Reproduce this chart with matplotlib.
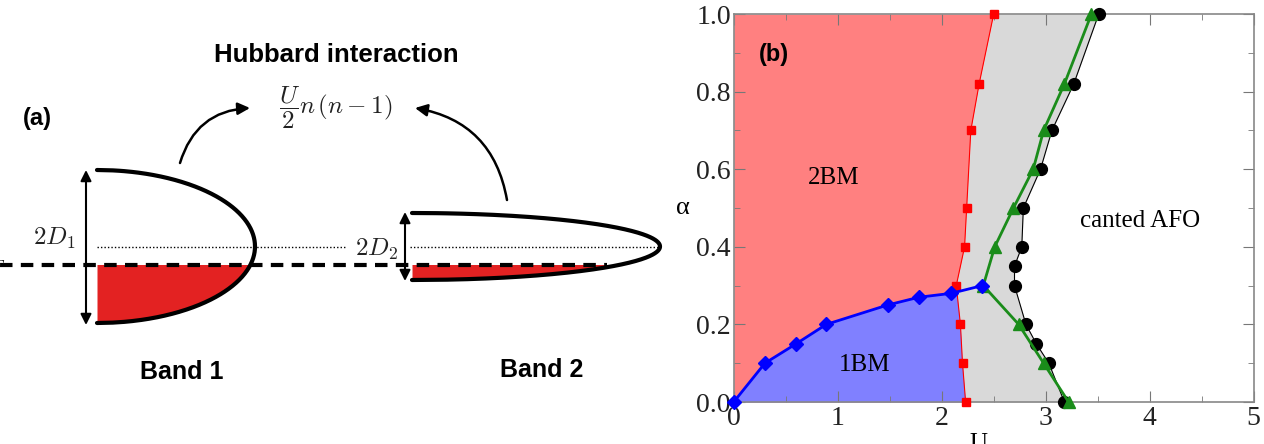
import numpy as np
import matplotlib.pyplot as plt

plt.rcParams.update({"mathtext.fontset": "cm"})

# phase boundaries, panel (b)
red_U = [2.50, 2.36, 2.28, 2.24, 2.22, 2.14, 2.18, 2.20, 2.23]
red_a = [1.00, 0.82, 0.70, 0.50, 0.40, 0.30, 0.20, 0.10, 0.00]

blue_U = [0.0, 0.30, 0.60, 0.89, 1.48, 1.78, 2.09, 2.39]
blue_a = [0.0, 0.10, 0.15, 0.20, 0.25, 0.27, 0.28, 0.30]

green_U = [3.44, 3.18, 2.98, 2.88, 2.69, 2.51, 2.40, 2.74, 2.98, 3.22]
green_a = [1.00, 0.82, 0.70, 0.60, 0.50, 0.40, 0.30, 0.20, 0.10, 0.00]

black_U = [3.51, 3.27, 3.06, 2.95, 2.785, 2.77, 2.70, 2.70, 2.81, 2.91, 3.03, 3.18]
black_a = [1.00, 0.82, 0.70, 0.60, 0.50, 0.40, 0.35, 0.30, 0.20, 0.15, 0.10, 0.00]

phase_labels = ["2BM", "1BM", "canted AFO"]
phase_pos = [(0.965, 0.577), (1.256, 0.096), (3.91, 0.466)]

# schematic, panel (a) (pixel units)
band1 = dict(x0=97, w=158, yc=246.5, h=76.5)
band2 = dict(x0=412, w=248, yc=246.5, h=33.5)
y_fermi = 264.5

fig = plt.figure(figsize=(12.64, 4.44), dpi=100)

# ---------- panel (a)
ax0 = fig.add_axes([0, 0, 1, 1])
ax0.set_xlim(0, 1264)
ax0.set_ylim(444, 0)
ax0.axis("off")

sans = ["Liberation Sans", "DejaVu Sans"]


def draw_band(b):
    e = np.linspace(-1, 1, 400)
    x = b["x0"] + b["w"] * np.sqrt(1 - e**2)
    y = b["yc"] - b["h"] * e
    ef = np.linspace(-1, (b["yc"] - y_fermi) / b["h"], 200)
    ax0.fill_betweenx(b["yc"] - b["h"] * ef, b["x0"],
                      b["x0"] + b["w"] * np.sqrt(1 - ef**2),
                      color="#e32222", lw=0)
    ax0.plot(x, y, color="k", lw=3, solid_capstyle="round")


draw_band(band1)
draw_band(band2)

ax0.plot([0, 607], [y_fermi, y_fermi], color="k", lw=3, dashes=(3, 2))
ax0.plot([97, 345], [247, 247], color="k", lw=1, ls=(0, (1, 1.5)))
ax0.plot([410, 660], [247, 247], color="k", lw=1, ls=(0, (1, 1.5)))

for x, y1, y2 in [(86, 170, 325), (405, 212, 281)]:
    ax0.annotate("", xy=(x, y1), xytext=(x, y2),
                 arrowprops=dict(arrowstyle="<|-|>", lw=1.5, color="k",
                                 mutation_scale=16, shrinkA=0, shrinkB=0))

ax0.annotate("", xy=(250, 108), xytext=(180, 163),
             arrowprops=dict(arrowstyle="-|>", lw=1.8, color="k",
                             mutation_scale=18, shrinkA=0, shrinkB=0,
                             connectionstyle="arc3,rad=-0.35"))
ax0.annotate("", xy=(415, 108), xytext=(507, 200),
             arrowprops=dict(arrowstyle="-|>", lw=1.8, color="k",
                             mutation_scale=18, shrinkA=0, shrinkB=0,
                             connectionstyle="arc3,rad=0.35"))

ax0.text(336, 55, "Hubbard interaction", family=sans, weight="bold",
         fontsize=18.5, ha="center", va="center")
ax0.text(37, 118, "(a)", family=sans, weight="bold", fontsize=17,
         ha="center", va="center")
ax0.text(336, 108, r"$\dfrac{U}{2}n\,(n-1)$", fontsize=18,
         ha="center", va="center", color="#222222")
ax0.text(182, 372, "Band 1", family=sans, weight="bold", fontsize=18,
         ha="center", va="center")
ax0.text(542, 370, "Band 2", family=sans, weight="bold", fontsize=18,
         ha="center", va="center")
ax0.text(54, 238, r"$2D_1$", fontsize=18, ha="center", va="center",
         color="#222222")
ax0.text(377, 249, r"$2D_2$", fontsize=18, ha="center", va="center",
         color="#222222")
ax0.text(6, 262, r"$E_F$", fontsize=18, ha="right", va="center",
         color="#222222")

# ---------- panel (b)
ax = fig.add_axes([733.7 / 1264, 42 / 444, 520 / 1264, 388 / 444])
serif = ["Liberation Serif", "DejaVu Serif"]

grid_a = np.linspace(0, 1, 1001)
ur = np.interp(grid_a, red_a[::-1], red_U[::-1])
ub = np.interp(grid_a, black_a[::-1], black_U[::-1])
ublue = np.interp(grid_a, blue_a, blue_U, right=np.inf)

ax.fill_betweenx(grid_a, 0, ur, color="#ff8080", lw=0)
ax.fill_betweenx(grid_a, ublue, ur, where=ublue < ur, interpolate=True,
                 color="#8080ff", lw=0)
ax.fill_betweenx(grid_a, ur, ub, color="#d9d9d9", lw=0)

ax.plot(black_U, black_a, color="k", lw=0.8, marker="o", ms=8.5,
        clip_on=False, zorder=3)
ax.plot(green_U, green_a, color="#1a8c1a", lw=2, marker="^", ms=9,
        clip_on=False, zorder=4)
ax.plot(red_U, red_a, color="red", lw=0.8, marker="s", ms=6,
        clip_on=False, zorder=5)
ax.plot(blue_U, blue_a, color="blue", lw=2, marker="D", ms=7,
        clip_on=False, zorder=6)

for lab, (u, a) in zip(phase_labels, phase_pos):
    ax.text(u, a, lab, family=serif, fontsize=18, ha="center", va="center")
ax.text(0.39, 0.895, "(b)", family=sans, weight="bold", fontsize=17,
        ha="center", va="center")

ax.set_xlim(0, 5)
ax.set_ylim(0, 1)
ax.set_xticks(np.arange(0, 5.01, 1))
ax.set_xticks(np.arange(0, 5.01, 0.5), minor=True)
ax.set_yticks(np.arange(0, 1.01, 0.2))
ax.set_yticks(np.arange(0, 1.01, 0.1), minor=True)
ax.set_yticklabels([f"{v:.1f}" for v in np.arange(0, 1.01, 0.2)])
ax.tick_params(which="both", direction="in", top=True, right=True,
               color="#777777", labelsize=20, labelcolor="#222222")
ax.tick_params(axis="y", pad=2)
ax.tick_params(axis="x", pad=3)
ax.tick_params(which="major", length=8)
ax.tick_params(which="minor", length=4)
for lbl in ax.get_xticklabels() + ax.get_yticklabels():
    lbl.set_family(serif)
for s in ax.spines.values():
    s.set_color("#888888")
    s.set_linewidth(1.2)

ax.set_xlabel("U", family=serif, fontsize=18)
ax.xaxis.set_label_coords(0.47, -0.08)
ax.set_ylabel("\u03b1", family=serif, fontsize=19, rotation=0,
              ha="center", va="center")
ax.yaxis.set_label_coords(-0.0975, 0.5)

plt.savefig("out.png", dpi=100)
